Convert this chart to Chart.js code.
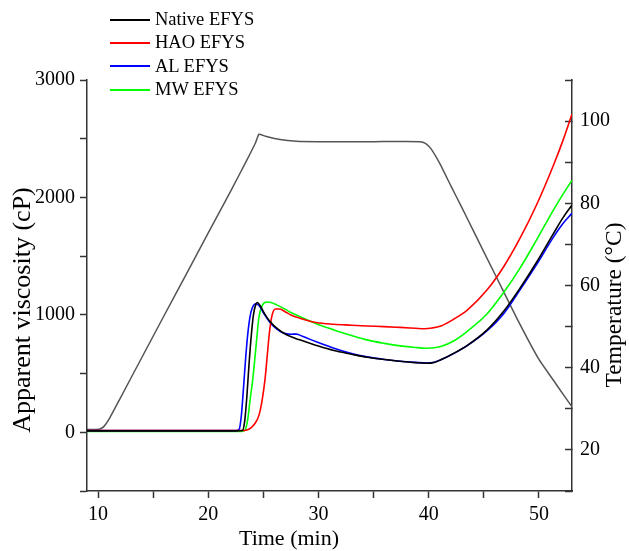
<!DOCTYPE html>
<html>
<head>
<meta charset="utf-8">
<script src="https://cdn.jsdelivr.net/npm/chart.js@4.4.1/dist/chart.umd.min.js"></script>
<style>
html,body{margin:0;padding:0;background:#fff}
#wrap{position:relative;width:629px;height:551px}
#legend{position:absolute;left:110px;top:8px;font-family:'Liberation Serif','Times New Roman',serif;font-size:18.5px;color:#000}
.lg-row{display:flex;align-items:center;height:23.3px}
.lg-line{display:inline-block;width:40px;height:2px;margin-right:5px}
</style>
</head>
<body>
<div id="wrap"><canvas id="c" width="629" height="551"></canvas><div id="legend"></div></div>
<script>
// axis titles / labels
const X_TITLE='Time (min)';
const Y_TITLE='Apparent viscosity (cP)';
const Y1_TITLE='Temperature (°C)';

// Native EFYS (black)
const tNative=[9,12,16,20,22.5,23.1,23.3,23.5,23.7,23.9,24.1,24.3,24.45,24.7,25.1,25.6,26.3,27.1,28.3,29.8,31.4,33,34.4,36,37.4,38.8,39.8,40.5,41.1,42.3,43.5,45.3,46.8,48.3,49.8,51.3,52.2,53];
const vNative=[12,12,12,12,12,15,90,300,580,820,1000,1085,1105,1080,1010,943,880,830,787,740,696,665,639,620,605,593,588,595,617,674,740,872,1030,1230,1450,1690,1830,1935];

// HAO EFYS (red)
const tHAO=[9,12,16,20,23,23.5,23.9,24.25,24.5,24.7,24.9,25.15,25.35,25.55,25.8,26.1,26.5,27,27.6,28.3,29.8,31.4,33,34.4,35.9,37.4,38.8,39.6,40.3,41.1,42.3,43.5,45.3,46.8,48.3,49.8,51.3,52.2,53];
const vHAO=[15,15,15,15,15,20,40,77,120,180,280,450,650,850,1000,1050,1050,1025,995,972,935,920,912,905,900,893,886,882,888,905,965,1040,1213,1410,1655,1940,2270,2490,2710];

// AL EFYS (blue)
const tAL=[9,12,16,20,22.5,22.8,23,23.2,23.4,23.6,23.8,24,24.3,24.6,25,25.6,26.2,26.8,27.5,28,28.6,29.8,31.4,33,34.4,36,37.4,38.8,39.8,40.5,41.1,42.3,43.5,45.3,46.8,48.3,49.8,51.3,52.2,53];
const vAL=[14,14,14,14,14,25,140,380,640,850,990,1060,1095,1080,1020,935,880,845,835,836,815,770,715,670,642,620,605,595,590,597,617,672,738,865,1010,1215,1430,1660,1780,1865];

// MW EFYS (green)
const tMW=[9,12,16,20,23,23.35,23.6,23.8,24,24.2,24.4,24.6,24.9,25.3,25.7,26.2,26.8,27.5,28.3,29.8,31.4,33,34.4,36,37.4,38.8,39.8,40.5,41.1,42.3,43.5,45.3,46.8,48.3,49.8,51.3,52.2,53];
const vMW=[8,8,8,8,8,20,120,280,420,600,800,980,1080,1110,1105,1085,1057,1020,986,925,872,825,787,757,736,722,716,720,730,780,860,1010,1190,1400,1640,1890,2030,2145];

// Temperature profile (grey, right axis)
const tTemp=[9,10.1,10.5,11,12,14,16,18,20,22,23.5,24.3,24.6,25.2,26.5,28,30,35,39.2,39.7,40.2,41,42,43,44,46,48,50,51.3,52.2,53];
const temp=[25,25,25.6,27.5,32.5,42.6,52.7,62.7,72.8,82.8,90.5,94.8,96.8,96.3,95.5,95.1,95,95,95,94.6,93.3,89.7,84.3,79,73.6,62.8,52,42,37,33.5,30.5];

const FONT="'Liberation Serif','Times New Roman',serif";
const AX='#333';
const pts=(ts,vs)=>ts.map((t,i)=>({x:t,y:vs[i]}));

const SERIES=[
  {label:'Native EFYS',t:tNative,v:vNative,color:'#000000'},
  {label:'HAO EFYS',t:tHAO,v:vHAO,color:'#ff0000'},
  {label:'AL EFYS',t:tAL,v:vAL,color:'#0000ff'},
  {label:'MW EFYS',t:tMW,v:vMW,color:'#00ff00'},
];

const datasets=SERIES.map(s=>({label:s.label,data:pts(s.t,s.v),yAxisID:'y',
  borderColor:s.color,backgroundColor:s.color,borderWidth:1.6,pointRadius:0,
  cubicInterpolationMode:'monotone',fill:false}));
datasets.push({label:'Temperature',data:pts(tTemp,temp),yAxisID:'y1',
  borderColor:'#555',backgroundColor:'#555',borderWidth:1.5,pointRadius:0,tension:0.15,fill:false});

/* ── legend (html, top-left above the plot) ── */
const leg=document.getElementById('legend');
SERIES.forEach(s=>{
  const r=document.createElement('div');r.className='lg-row';
  r.innerHTML=`<span class="lg-line" style="background:${s.color}"></span><span>${s.label}</span>`;
  leg.appendChild(r);
});

/* ── axis titles drawn off-centre like the original ── */
const axisTitles={id:'axisTitles',afterDraw(chart){
  const {ctx,chartArea:a}=chart;
  ctx.save();
  ctx.fillStyle='#000';ctx.textAlign='center';ctx.textBaseline='middle';
  ctx.font='22px '+FONT;
  ctx.fillText(X_TITLE,a.left+202,a.bottom+48);
  ctx.translate(23,310);ctx.rotate(-Math.PI/2);
  ctx.font='26px '+FONT;
  ctx.fillText(Y_TITLE,0,0);
  ctx.restore();
  ctx.save();
  ctx.fillStyle='#000';ctx.textAlign='center';ctx.textBaseline='middle';
  ctx.font='23.5px '+FONT;
  ctx.translate(615,305);ctx.rotate(-Math.PI/2);ctx.fillText(Y1_TITLE,0,0);
  ctx.restore();
}};

const tickFont={family:FONT,size:20};
new Chart(document.getElementById('c'),{
  type:'line',
  data:{datasets},
  plugins:[axisTitles],
  options:{responsive:false,animation:false,
    layout:{padding:{top:80,left:0,right:0,bottom:0}},
    plugins:{legend:{display:false},tooltip:{enabled:false}},
    scales:{
      x:{type:'linear',min:9,max:53,
        border:{display:true,color:AX,width:1.5},
        grid:{drawOnChartArea:false,drawTicks:true,tickLength:7,color:AX,tickWidth:1.5},
        ticks:{stepSize:5,includeBounds:false,autoSkip:false,maxRotation:0,padding:5,color:'#000',font:tickFont,
          callback:v=>v%10===0?v:''},
        afterFit:s=>{s.height=60;}},
      y:{position:'left',min:-500,max:3000,
        border:{display:true,color:AX,width:1.5},
        grid:{drawOnChartArea:false,drawTicks:true,tickLength:7,color:AX,tickWidth:1.5},
        ticks:{stepSize:500,includeBounds:false,autoSkip:false,padding:5,color:'#000',font:tickFont,
          callback:v=>v%1000===0?v:''},
        afterFit:s=>{s.width=87;}},
      y1:{position:'right',min:10,max:110,
        border:{display:true,color:AX,width:1.5},
        grid:{drawOnChartArea:false,drawTicks:true,tickLength:-7,color:AX,tickWidth:1.5},
        ticks:{stepSize:10,includeBounds:false,autoSkip:false,padding:15,color:'#000',font:tickFont,
          callback:v=>v%20===0?v:''},
        afterFit:s=>{s.width=57;}}
    }
  }
});
</script>
</body>
</html>
